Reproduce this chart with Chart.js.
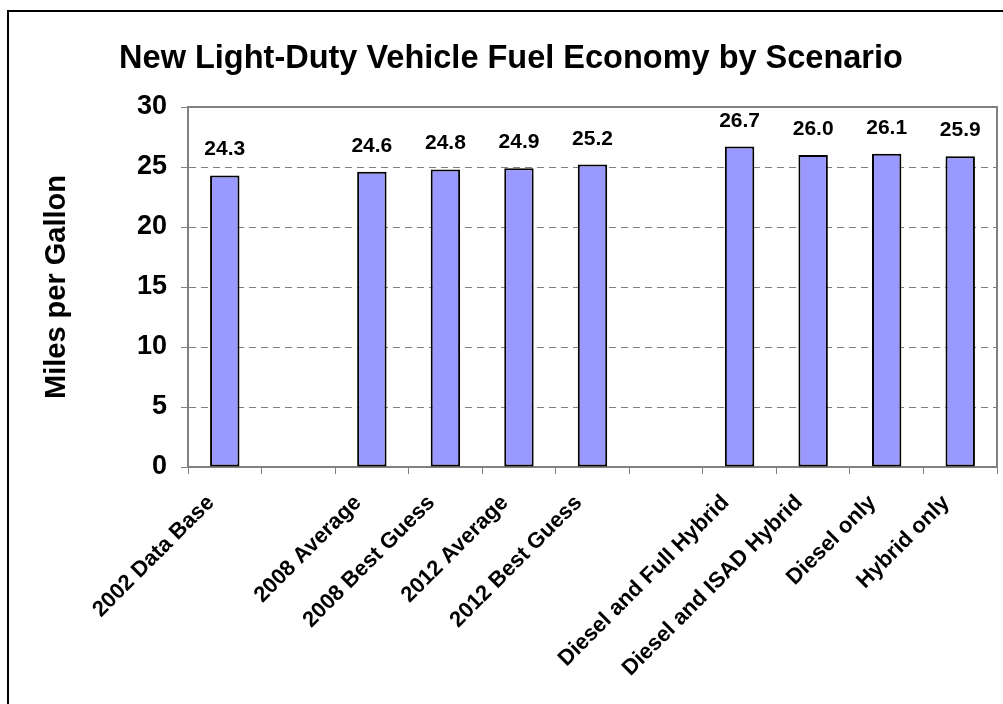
<!DOCTYPE html>
<html>
<head>
<meta charset="utf-8">
<script src="https://cdn.jsdelivr.net/npm/chart.js@4.4.0/dist/chart.umd.min.js"></script>
<style>
  html, body { margin: 0; padding: 0; background: #fff; }
  #wrap { position: relative; width: 1003px; height: 704px; }
</style>
</head>
<body>
<div id="wrap"><canvas id="chart"></canvas></div>
<script>
// Data
const TITLE = 'New Light-Duty Vehicle Fuel Economy by Scenario';
const Y_TITLE = 'Miles per Gallon';
const CATEGORIES = ['2002 Data Base', '', '2008 Average', '2008 Best Guess', '2012 Average',
  '2012 Best Guess', '', 'Diesel and Full Hybrid', 'Diesel and ISAD Hybrid', 'Diesel only', 'Hybrid only'];
const MPG = [24.3, null, 24.6, 24.8, 24.9, 25.2, null, 26.7, 26.0, 26.1, 25.9];
const Y_TICKS = [0, 5, 10, 15, 20, 25, 30];

const FONT = "Arial, 'Liberation Sans', sans-serif";
const AXIS_GRAY = '#808080';

// outer frame of the chart object (only top and left edge visible)
const framePlugin = {
  id: 'frame',
  beforeDraw(chart) {
    const ctx = chart.ctx;
    ctx.save();
    ctx.fillStyle = '#fff';
    ctx.fillRect(0, 0, chart.width, chart.height);
    ctx.strokeStyle = '#000';
    ctx.lineWidth = 2;
    ctx.beginPath();
    ctx.moveTo(8, chart.height);
    ctx.lineTo(8, 11);
    ctx.lineTo(chart.width, 11);
    ctx.stroke();
    ctx.restore();
  }
};

// grey top/right edge of plot area
const plotBorderPlugin = {
  id: 'plotBorder',
  beforeDatasetsDraw(chart) {
    const { ctx, chartArea: a } = chart;
    ctx.save();
    ctx.strokeStyle = AXIS_GRAY;
    ctx.lineWidth = 2;
    ctx.beginPath();
    ctx.moveTo(a.left, a.top);
    ctx.lineTo(a.right, a.top);
    ctx.lineTo(a.right, a.bottom);
    ctx.stroke();
    ctx.restore();
  }
};

// value labels above the bars
const valueLabelPlugin = {
  id: 'valueLabels',
  afterDatasetsDraw(chart) {
    const ctx = chart.ctx;
    const meta = chart.getDatasetMeta(0);
    ctx.save();
    ctx.font = `bold 21px ${FONT}`;
    ctx.fillStyle = '#000';
    ctx.textAlign = 'center';
    ctx.textBaseline = 'alphabetic';
    meta.data.forEach((bar, i) => {
      const v = MPG[i];
      if (v === null) return;
      ctx.fillText(v.toFixed(1), bar.x, bar.y - 20);
    });
    ctx.restore();
  }
};

const ctx = document.getElementById('chart');
new Chart(ctx, {
  type: 'bar',
  data: {
    labels: CATEGORIES,
    datasets: [{
      data: MPG,
      backgroundColor: '#9999FF',
      borderColor: '#000',
      borderWidth: 2,
      borderSkipped: false,
      barPercentage: 0.4,
      categoryPercentage: 1
    }]
  },
  options: {
    responsive: true,
    maintainAspectRatio: false,
    animation: false,
    layout: { padding: { left: 25, right: 6, top: 0, bottom: 0 } },
    plugins: {
      legend: { display: false },
      tooltip: { enabled: false },
      title: {
        display: true,
        text: TITLE,
        color: '#000',
        font: { family: FONT, size: 32.5, weight: 'bold' },
        padding: { top: 40, bottom: 28 }
      }
    },
    scales: {
      x: {
        grid: {
          display: true,
          drawOnChartArea: false,
          tickLength: 7,
          tickColor: AXIS_GRAY,
          tickWidth: 1,
          tickBorderDash: [],
          offset: true
        },
        border: { display: true, color: AXIS_GRAY, width: 2 },
        ticks: {
          autoSkip: false,
          minRotation: 45,
          maxRotation: 45,
          color: '#000',
          padding: 16,
          labelOffset: -14,
          font: { family: FONT, size: 22, weight: 'bold' }
        },
        afterFit(scale) { scale.height = 237; }
      },
      y: {
        min: Y_TICKS[0],
        max: Y_TICKS[Y_TICKS.length - 1],
        afterBuildTicks(scale) { scale.ticks = Y_TICKS.map(v => ({ value: v })); },
        grid: {
          color: AXIS_GRAY,
          lineWidth: 1,
          tickLength: 7,
          tickColor: AXIS_GRAY,
          tickBorderDash: []
        },
        border: { display: true, color: AXIS_GRAY, width: 2, dash: [7, 5] },
        ticks: {
          color: '#000',
          padding: 14,
          font: { family: FONT, size: 27, weight: 'bold' }
        },
        title: {
          display: true,
          text: Y_TITLE,
          color: '#000',
          font: { family: FONT, size: 29, weight: 'bold' },
          padding: { top: 15, bottom: 0 }
        },
        afterFit(scale) { scale.width = 163; }
      }
    }
  },
  plugins: [framePlugin, plotBorderPlugin, valueLabelPlugin]
});
</script>
</body>
</html>
